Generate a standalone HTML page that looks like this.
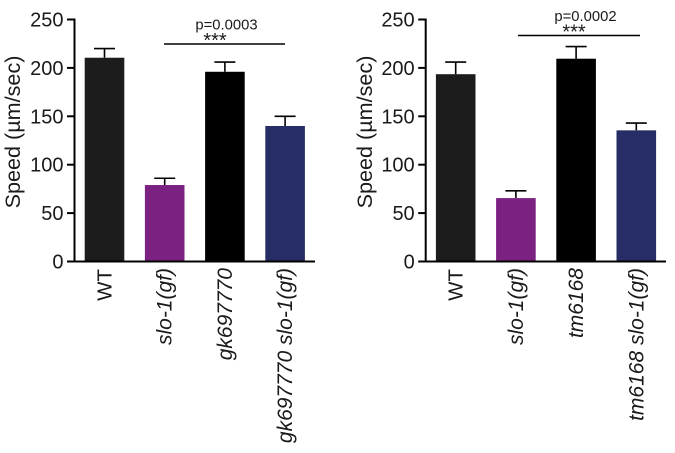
<!DOCTYPE html>
<html>
<head>
<meta charset="utf-8">
<style>
html,body{margin:0;padding:0;background:#fff;width:675px;height:453px;overflow:hidden}
svg{display:block}
text{font-family:"Liberation Sans",sans-serif;fill:#1a1a1a}
</style>
</head>
<body>
<svg id="fig" width="675" height="453" viewBox="0 0 675 453" xmlns="http://www.w3.org/2000/svg"></svg>
<script>
const yTicks = [0, 50, 100, 150, 200, 250];
const axisTitle = "Speed (\u00b5m/sec)";
const categoriesLeft = ["WT", "slo-1(gf)", "gk697770", "gk697770 slo-1(gf)"];
const valuesLeft = [210.5, 79, 196, 140];
const errorTopsLeft = [220, 86, 206, 150];
const pLabelLeft = "p=0.0003";
const categoriesRight = ["WT", "slo-1(gf)", "tm6168", "tm6168 slo-1(gf)"];
const valuesRight = [193.5, 65.5, 209.5, 135.5];
const errorTopsRight = [206, 73, 222, 143];
const pLabelRight = "p=0.0002";
const barColors = ["#1c1c1c", "#7b2181", "#000000", "#272d66"];

const NS = "http://www.w3.org/2000/svg";
const svg = document.getElementById("fig");
const Y0 = 261.5, Y250 = 19.5;
function yScale(v) { return Y0 - (v / 250) * (Y0 - Y250); }

function line(parent, x1, y1, x2, y2, w) {
  const el = document.createElementNS(NS, "line");
  el.setAttribute("x1", x1);
  el.setAttribute("y1", y1);
  el.setAttribute("x2", x2);
  el.setAttribute("y2", y2);
  el.setAttribute("stroke", "#000");
  el.setAttribute("stroke-width", w);
  parent.appendChild(el);
  return el;
}
function label(parent, str, x, y, size, anchor, rotate, italic) {
  const el = document.createElementNS(NS, "text");
  el.textContent = str;
  el.setAttribute("font-size", size);
  el.setAttribute("text-anchor", anchor);
  if (rotate) {
    el.setAttribute("transform", "translate(" + x + " " + y + ") rotate(-90)");
  } else {
    el.setAttribute("x", x);
    el.setAttribute("y", y);
  }
  if (italic) el.setAttribute("font-style", "italic");
  parent.appendChild(el);
  return el;
}

function drawChart(cfg, categories, values, errorTops, pLabel) {
  const g = document.createElementNS(NS, "g");
  
  
  svg.appendChild(g);
  const xOf = (i) => cfg.firstCenter + i * cfg.step;

  values.forEach((v, i) => {
    const cx = xOf(i);
    const topY = yScale(errorTops[i]);
    const stem = line(g, cx, yScale(v), cx, topY, 1.6);
    
    
    const cap = line(g, cx - 10.5, topY, cx + 10.5, topY, 1.6);
    
    

    const r = document.createElementNS(NS, "rect");
    r.setAttribute("x", cx - 19.8);
    r.setAttribute("y", yScale(v));
    r.setAttribute("width", 39.6);
    r.setAttribute("height", Y0 - yScale(v));
    r.setAttribute("fill", barColors[i]);
    
    
    g.appendChild(r);

    const cat = label(g, categories[i], cx + 7, i > 0 ? 268 : 269, i > 0 ? 21 : 20.5, "end", true, i > 0);
    
    
  });

  const yAxis = line(g, cfg.axisX, Y250 - 1, cfg.axisX, Y0 + 1, 2);
  
  
  const xAxis = line(g, cfg.axisX - 1, Y0, cfg.axisEnd, Y0, 2);
  
  

  yTicks.forEach((t) => {
    const tick = line(g, cfg.axisX - 7.5, yScale(t), cfg.axisX, yScale(t), 2);
    
    
    const tl = label(g, String(t), cfg.axisX - 11, yScale(t) + 7, 20, "end");
    
    
  });

  const title = label(g, axisTitle, cfg.titleX, 132, 21.6, "middle", true);
  
  

  const sig = line(g, cfg.sigX1, cfg.sigY, cfg.sigX2, cfg.sigY, 1.6);
  
  
  const p = label(g, pLabel, cfg.pX, cfg.sigY - 14.5, 14.8, "middle");
  
  
  const stars = label(g, "***", cfg.starX, cfg.sigY + 3, 20, "middle");
  
  
}

drawChart({name: "chart-gk697770", axisX: 74.5, axisEnd: 315, firstCenter: 104.5, step: 60.2, titleX: 20, sigX1: 164, sigX2: 285, sigY: 44, pX: 226.5, starX: 215},
  categoriesLeft, valuesLeft, errorTopsLeft, pLabelLeft);
drawChart({name: "chart-tm6168", axisX: 425.7, axisEnd: 666, firstCenter: 455.7, step: 60.2, titleX: 372, sigX1: 518, sigX2: 640, sigY: 35.5, pX: 585.5, starX: 574},
  categoriesRight, valuesRight, errorTopsRight, pLabelRight);
</script>
</body>
</html>
